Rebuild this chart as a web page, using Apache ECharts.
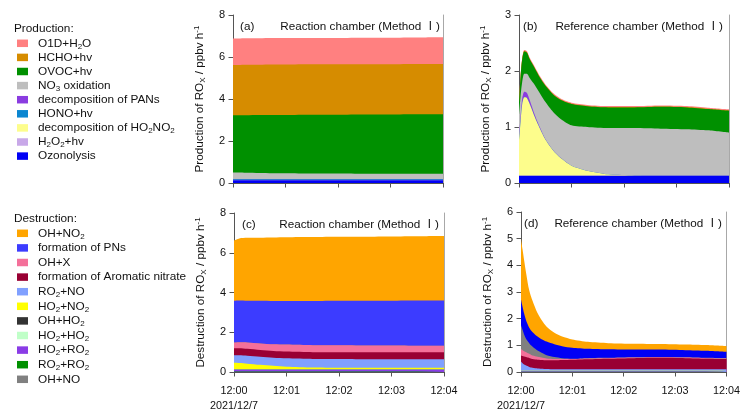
<!DOCTYPE html>
<html><head><meta charset="utf-8">
<script src="https://cdn.jsdelivr.net/npm/echarts@6/dist/echarts.min.js"></script>
<style>html,body{margin:0;padding:0;background:#fff}#c{width:743px;height:414px}</style>
</head><body><div id="c"></div>
<script>
// ---------- time axes (minutes after 12:00, 2021/12/7) ----------
const T_REACT = [0, 0.1, 0.25, 0.5, 0.75, 1, 1.5, 2, 2.5, 3, 3.5, 4];
const T_REF = [0, 0.03, 0.06, 0.1, 0.15, 0.2, 0.3, 0.4, 0.5, 0.65, 0.8, 1.0, 1.3, 1.7, 2.2, 2.7, 3.2, 3.6, 4.0];
const X_TICKS = ['12:00', '12:01', '12:02', '12:03', '12:04'];
const DATE_LABEL = '2021/12/7';

// ---------- production names (stack order bottom -> top) ----------
const PROD_NAMES = ['Ozonolysis', 'H2O2+hv', 'decomposition of HO2NO2', 'HONO+hv', 'decomposition of PANs', 'NO3 oxidation', 'OVOC+hv', 'HCHO+hv', 'O1D+H2O'];
const PROD_COLORS = ['#0000f5', '#c8a8e8', '#fdfd8c', '#0b86d1', '#8a3ce0', '#bebebe', '#009000', '#d68c00', '#ff8080'];

// (a) Reaction chamber production
const a_Ozonolysis = [0.13, 0.13, 0.13, 0.13, 0.13, 0.13, 0.13, 0.13, 0.13, 0.13, 0.13, 0.13];
const a_H2O2 = [0.005, 0.005, 0.005, 0.005, 0.005, 0.005, 0.005, 0.005, 0.005, 0.005, 0.005, 0.005];
const a_HO2NO2 = [0, 0, 0, 0, 0, 0, 0, 0, 0, 0, 0, 0];
const a_HONO = [0.04, 0.04, 0.04, 0.04, 0.04, 0.04, 0.04, 0.04, 0.04, 0.04, 0.04, 0.04];
const a_PANs = [0.005, 0.005, 0.005, 0.005, 0.005, 0.005, 0.005, 0.005, 0.005, 0.005, 0.005, 0.005];
const a_NO3 = [0.32, 0.32, 0.31, 0.30, 0.29, 0.28, 0.27, 0.27, 0.26, 0.26, 0.26, 0.26];
const a_OVOC = [2.73, 2.73, 2.74, 2.76, 2.77, 2.78, 2.80, 2.80, 2.82, 2.82, 2.83, 2.83];
const a_HCHO = [2.39, 2.39, 2.40, 2.39, 2.40, 2.40, 2.40, 2.40, 2.40, 2.40, 2.40, 2.40];
const a_O1D = [1.26, 1.26, 1.26, 1.26, 1.26, 1.26, 1.26, 1.26, 1.26, 1.26, 1.26, 1.27];

// (b) Reference chamber production
const b_Ozonolysis = [0.13, 0.13, 0.13, 0.13, 0.13, 0.13, 0.13, 0.13, 0.13, 0.13, 0.13, 0.13, 0.13, 0.13, 0.13, 0.13, 0.13, 0.13, 0.13];
const b_H2O2 = [0, 0, 0, 0, 0, 0, 0, 0, 0, 0, 0, 0, 0, 0, 0, 0, 0, 0, 0];
const b_HO2NO2 = [0.62, 0.97, 1.27, 1.40, 1.39, 1.29, 1.05, 0.84, 0.65, 0.45, 0.31, 0.18, 0.09, 0.025, 0.005, 0, 0, 0, 0];
const b_HONO = [0, 0, 0, 0, 0, 0, 0, 0, 0, 0, 0, 0, 0, 0, 0, 0, 0, 0, 0];
const b_PANs = [0.07, 0.09, 0.10, 0.10, 0.09, 0.07, 0.04, 0.02, 0.01, 0.005, 0.005, 0, 0, 0, 0, 0, 0, 0, 0];
const b_NO3 = [0.38, 0.36, 0.30, 0.32, 0.34, 0.39, 0.53, 0.61, 0.66, 0.685, 0.695, 0.72, 0.78, 0.825, 0.845, 0.84, 0.83, 0.81, 0.77];
const b_OVOC = [0.2, 0.35, 0.4, 0.4, 0.38, 0.34, 0.3, 0.28, 0.29, 0.31, 0.34, 0.38, 0.37, 0.37, 0.37, 0.39, 0.39, 0.38, 0.39];
const b_HCHO = [0.005, 0.005, 0.005, 0.005, 0.005, 0.005, 0.005, 0.005, 0.005, 0.005, 0.005, 0.005, 0.005, 0.005, 0.005, 0.005, 0.005, 0.005, 0.005];
const b_O1D = [0.02, 0.02, 0.02, 0.02, 0.02, 0.02, 0.02, 0.02, 0.02, 0.02, 0.02, 0.02, 0.02, 0.02, 0.02, 0.02, 0.02, 0.02, 0.02];

// ---------- destruction names (stack order bottom -> top) ----------
const DEST_NAMES = ['RO2+RO2', 'HO2+RO2', 'HO2+HO2', 'OH+HO2', 'HO2+NO2', 'RO2+NO', 'formation of Aromatic nitrate', 'OH+X', 'OH+NO', 'formation of PNs', 'OH+NO2'];
const DEST_COLORS_C = ['#009000', '#8a3ce6', '#c0ffc8', '#333333', '#ffff00', '#80a0ff', '#990033', '#f4709a', '#808080', '#3c3cff', '#ffa500'];
const DEST_COLORS_D = ['#009000', '#8a3ce6', '#c0ffc8', '#333333', '#ffff00', '#80a0ff', '#990033', '#f4709a', '#808080', '#0000f5', '#ffa500'];

// (c) Reaction chamber destruction
const c_RO2RO2 = [0.02, 0.02, 0.02, 0.02, 0.02, 0.02, 0.02, 0.02, 0.02, 0.02, 0.02, 0.02];
const c_HO2RO2 = [0.09, 0.09, 0.09, 0.09, 0.09, 0.09, 0.09, 0.09, 0.09, 0.09, 0.09, 0.09];
const c_HO2HO2 = [0.02, 0.02, 0.02, 0.02, 0.02, 0.02, 0.02, 0.02, 0.02, 0.02, 0.02, 0.02];
const c_OHHO2 = [0.01, 0.01, 0.01, 0.01, 0.01, 0.01, 0.01, 0.01, 0.01, 0.01, 0.01, 0.01];
const c_HO2NO2 = [0.32, 0.31, 0.28, 0.22, 0.17, 0.13, 0.09, 0.08, 0.07, 0.07, 0.07, 0.07];
const c_RO2NO = [0.38, 0.39, 0.40, 0.41, 0.41, 0.42, 0.43, 0.43, 0.43, 0.43, 0.43, 0.43];
const c_Arom = [0.36, 0.36, 0.35, 0.34, 0.34, 0.34, 0.34, 0.34, 0.35, 0.35, 0.35, 0.35];
const c_OHX = [0.28, 0.30, 0.32, 0.33, 0.34, 0.35, 0.35, 0.35, 0.34, 0.34, 0.33, 0.33];
const c_OHNO = [0, 0, 0, 0, 0, 0, 0, 0, 0, 0, 0, 0];
const c_PNs = [2.11, 2.10, 2.10, 2.14, 2.17, 2.19, 2.22, 2.24, 2.25, 2.26, 2.28, 2.28];
const c_OHNO2 = [3.02, 3.12, 3.16, 3.18, 3.20, 3.21, 3.22, 3.22, 3.23, 3.23, 3.23, 3.24];

// (d) Reference chamber destruction
const d_RO2RO2 = [0.005, 0.005, 0.005, 0.005, 0.005, 0.005, 0.005, 0.005, 0.005, 0.005, 0.005, 0.005, 0.005, 0.005, 0.005, 0.005, 0.005, 0.005, 0.005];
const d_HO2RO2 = [0.025, 0.025, 0.025, 0.025, 0.025, 0.025, 0.025, 0.025, 0.025, 0.025, 0.025, 0.025, 0.025, 0.025, 0.025, 0.025, 0.025, 0.025, 0.025];
const d_HO2HO2 = [0.005, 0.005, 0.005, 0.005, 0.005, 0.005, 0.005, 0.005, 0.005, 0.005, 0.005, 0.005, 0.005, 0.005, 0.005, 0.005, 0.005, 0.005, 0.005];
const d_OHHO2 = [0.005, 0.005, 0.005, 0.005, 0.005, 0.005, 0.005, 0.005, 0.005, 0.005, 0.005, 0.005, 0.005, 0.005, 0.005, 0.005, 0.005, 0.005, 0.005];
const d_HO2NO2 = [0.01, 0.01, 0.01, 0.01, 0.01, 0.01, 0.01, 0.01, 0.01, 0.01, 0.01, 0.01, 0.01, 0.01, 0.01, 0.01, 0.01, 0.01, 0.01];
const d_RO2NO = [0.34, 0.28, 0.23, 0.19, 0.15, 0.12, 0.09, 0.07, 0.06, 0.05, 0.05, 0.05, 0.05, 0.05, 0.05, 0.05, 0.05, 0.05, 0.05];
const d_Arom = [0.23, 0.27, 0.30, 0.32, 0.33, 0.33, 0.33, 0.33, 0.33, 0.34, 0.35, 0.36, 0.38, 0.40, 0.42, 0.43, 0.42, 0.40, 0.39];
const d_OHX = [0.24, 0.22, 0.2, 0.18, 0.16, 0.14, 0.11, 0.09, 0.07, 0.05, 0.04, 0.03, 0.03, 0.02, 0.02, 0.02, 0.02, 0.02, 0.02];
const d_OHNO = [0.89, 0.76, 0.63, 0.50, 0.42, 0.35, 0.25, 0.18, 0.12, 0.07, 0.03, 0.01, 0.01, 0.01, 0.01, 0.01, 0.01, 0.01, 0.01];
const d_PNs = [0.97, 0.87, 0.79, 0.69, 0.59, 0.56, 0.53, 0.51, 0.51, 0.48, 0.45, 0.41, 0.35, 0.32, 0.29, 0.28, 0.27, 0.27, 0.24];
const d_OHNO2 = [2.28, 2.15, 2.0, 1.77, 1.45, 1.25, 0.94, 0.72, 0.56, 0.43, 0.36, 0.31, 0.26, 0.23, 0.22, 0.21, 0.21, 0.21, 0.21];

// legend display order (top -> bottom)
const PROD_LEGEND = ['O1D+H2O', 'HCHO+hv', 'OVOC+hv', 'NO3 oxidation', 'decomposition of PANs', 'HONO+hv', 'decomposition of HO2NO2', 'H2O2+hv', 'Ozonolysis'];
const DEST_LEGEND = ['OH+NO2', 'formation of PNs', 'OH+X', 'formation of Aromatic nitrate', 'RO2+NO', 'HO2+NO2', 'OH+HO2', 'HO2+HO2', 'HO2+RO2', 'RO2+RO2', 'OH+NO'];
const LABELS = {
  'O1D+H2O': 'O1D+H{s|2}O', 'NO3 oxidation': 'NO{s|3} oxidation',
  'decomposition of HO2NO2': 'decomposition of HO{s|2}NO{s|2}', 'H2O2+hv': 'H{s|2}O{s|2}+hv',
  'OH+NO2': 'OH+NO{s|2}', 'RO2+NO': 'RO{s|2}+NO', 'HO2+NO2': 'HO{s|2}+NO{s|2}',
  'OH+HO2': 'OH+HO{s|2}', 'HO2+HO2': 'HO{s|2}+HO{s|2}', 'HO2+RO2': 'HO{s|2}+RO{s|2}', 'RO2+RO2': 'RO{s|2}+RO{s|2}'
};

const FONT = '"Liberation Sans", Arial, "Noto Sans CJK SC", sans-serif';
const TXT = '#111';

const PANELS = [
  {tag: '(a)', title: 'Reaction chamber (Method Ⅰ)', yName: 'Production of RO{s|X} / ppbv h{p|-1}', max: 8, step: 2,
   grid: {left: 233, top: 15, width: 210, height: 168}, times: T_REACT,
   names: PROD_NAMES, colors: PROD_COLORS,
   vals: [a_Ozonolysis, a_H2O2, a_HO2NO2, a_HONO, a_PANs, a_NO3, a_OVOC, a_HCHO, a_O1D],
   tagPos: [240, 20], titleRight: 303},
  {tag: '(b)', title: 'Reference chamber (Method Ⅰ)', yName: 'Production of RO{s|X} / ppbv h{p|-1}', max: 3, step: 1,
   grid: {left: 519, top: 15, width: 210, height: 168}, times: T_REF,
   names: PROD_NAMES, colors: PROD_COLORS,
   vals: [b_Ozonolysis, b_H2O2, b_HO2NO2, b_HONO, b_PANs, b_NO3, b_OVOC, b_HCHO, b_O1D],
   tagPos: [523, 20], titleRight: 20},
  {tag: '(c)', title: 'Reaction chamber (Method Ⅰ)', yName: 'Destruction of RO{s|X} / ppbv h{p|-1}', max: 8, step: 2,
   grid: {left: 234, top: 213, width: 210, height: 167}, times: T_REACT,
   names: DEST_NAMES, colors: DEST_COLORS_C,
   vals: [c_RO2RO2, c_HO2RO2, c_HO2HO2, c_OHHO2, c_HO2NO2, c_RO2NO, c_Arom, c_OHX, c_OHNO, c_PNs, c_OHNO2],
   tagPos: [242, 218], titleRight: 304},
  {tag: '(d)', title: 'Reference chamber (Method Ⅰ)', yName: 'Destruction of RO{s|X} / ppbv h{p|-1}', max: 6, step: 1,
   grid: {left: 521, top: 212, width: 209, height: 167}, times: T_REF,
   names: DEST_NAMES, colors: DEST_COLORS_D,
   vals: [d_RO2RO2, d_HO2RO2, d_HO2HO2, d_OHHO2, d_HO2NO2, d_RO2NO, d_Arom, d_OHX, d_OHNO, d_PNs, d_OHNO2],
   tagPos: [524, 217], titleRight: 21}
];

const grids = [], xAxes = [], yAxes = [], series = [], titles = [];
const subRich = {
  s: {fontSize: 8, lineHeight: 8, verticalAlign: 'bottom', fontFamily: FONT, color: TXT},
  p: {fontSize: 8, lineHeight: 8, verticalAlign: 'top', fontFamily: FONT, color: TXT}
};

PANELS.forEach((P, gi) => {
  grids.push(Object.assign({containLabel: false}, P.grid));
  xAxes.push({
    type: 'value', gridIndex: gi, min: 0, max: 4, interval: 1,
    axisLine: {lineStyle: {color: '#555', width: 1}},
    axisTick: {show: true, length: 4.5, lineStyle: {color: '#555'}},
    splitLine: {show: false},
    axisLabel: {show: gi >= 2, fontSize: 10.8, color: TXT, fontFamily: FONT, margin: 12, lineHeight: 15,
      formatter: v => (v === 0 ? X_TICKS[0] + '\n' + DATE_LABEL : X_TICKS[Math.round(v)])}
  });
  yAxes.push({
    type: 'value', gridIndex: gi, min: 0, max: P.max, interval: P.step, position: 'left',
    axisLine: {show: true, lineStyle: {color: '#555', width: 1}},
    axisTick: {show: true, length: 4.5, lineStyle: {color: '#555'}},
    splitLine: {show: false},
    axisLabel: {fontSize: 11, color: TXT, fontFamily: FONT, margin: 8},
    name: P.yName, nameLocation: 'middle', nameRotate: 90, nameGap: 26,
    nameTextStyle: {fontSize: 11.7, color: TXT, fontFamily: FONT, lineHeight: 14, rich: subRich}
  });
  yAxes.push({
    type: 'value', gridIndex: gi, min: 0, max: P.max, position: 'right',
    axisLine: {show: true, lineStyle: {color: '#a8a8a8', width: 1}},
    axisTick: {show: false}, axisLabel: {show: false}, splitLine: {show: false}
  });
  // cumulative tops of each layer; draw topmost layer first so lower layers paint over it
  const cum = [];
  P.vals.forEach((arr, k) => {
    cum.push(arr.map((v, i) => v + (k > 0 ? cum[k - 1][i] : 0)));
  });
  for (let k = P.names.length - 1; k >= 0; k--) {
    const col = P.colors[k];
    series.push({
      type: 'line', name: P.names[k], xAxisIndex: gi, yAxisIndex: gi * 2,
      smooth: 0.25, showSymbol: false, symbol: 'none', silent: true,
      lineStyle: {width: 0, color: col}, itemStyle: {color: col},
      areaStyle: {color: col, opacity: 1, origin: 'start'},
      data: P.times.map((t, i) => [t, cum[k][i]])
    });
  }
  titles.push({text: P.tag, left: P.tagPos[0], top: P.tagPos[1], padding: 0,
    textStyle: {fontSize: 11.7, fontWeight: 'normal', color: TXT, fontFamily: FONT, lineHeight: 14}});
  titles.push({text: P.title, right: P.titleRight, top: P.tagPos[1], padding: 0,
    textStyle: {fontSize: 11.7, fontWeight: 'normal', color: TXT, fontFamily: FONT, lineHeight: 14}});
});

titles.push({text: 'Production:', left: 14, top: 22, padding: 0,
  textStyle: {fontSize: 11.8, fontWeight: 'normal', color: TXT, fontFamily: FONT, lineHeight: 14}});
titles.push({text: 'Destruction:', left: 14, top: 212, padding: 0,
  textStyle: {fontSize: 11.8, fontWeight: 'normal', color: TXT, fontFamily: FONT, lineHeight: 14}});

const legendText = {fontSize: 11.8, color: TXT, fontFamily: FONT, lineHeight: 14, padding: [0, 0, 0, 5],
  rich: {s: {fontSize: 8, lineHeight: 8, verticalAlign: 'bottom', fontFamily: FONT, color: TXT}}};
const legends = [
  {data: PROD_LEGEND, orient: 'vertical', left: 17, top: 36.3, padding: 0, itemGap: 0.1,
   itemWidth: 11, itemHeight: 7.5, icon: 'rect', selectedMode: false, textStyle: legendText,
   formatter: n => LABELS[n] || n},
  {data: DEST_LEGEND, orient: 'vertical', left: 17, top: 226.3, padding: 0, itemGap: 0.6,
   itemWidth: 11, itemHeight: 7.5, icon: 'rect', selectedMode: false, textStyle: legendText,
   formatter: n => LABELS[n] || n}
];

const chart = echarts.init(document.getElementById('c'), null, {renderer: 'canvas'});
chart.setOption({
  animation: false, backgroundColor: '#fff',
  title: titles, legend: legends, grid: grids, xAxis: xAxes, yAxis: yAxes, series: series,
  tooltip: {show: false}
});
</script></body></html>
